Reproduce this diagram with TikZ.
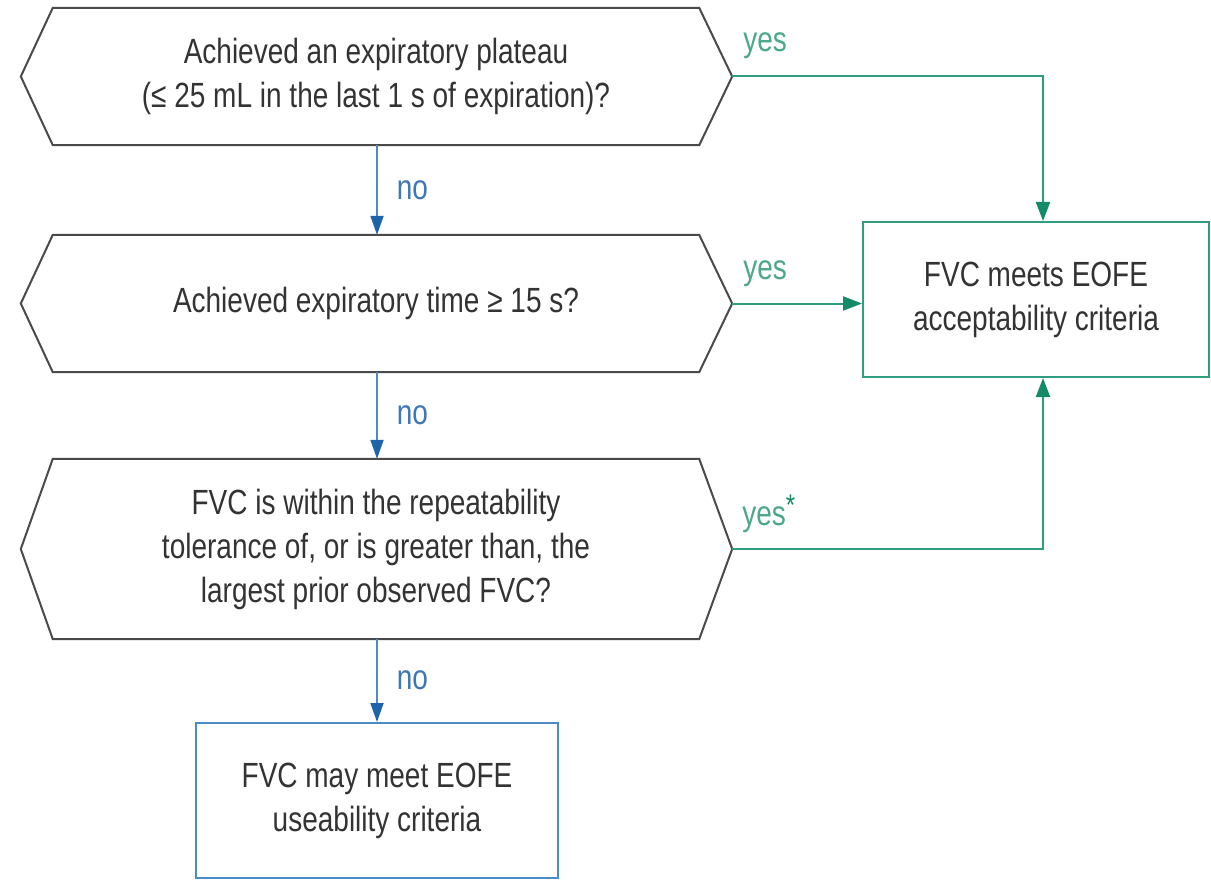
\documentclass[tikz,border=0pt]{standalone}
\usepackage{fontspec}
\setmainfont[FakeStretch=0.8]{Liberation Sans}
\usetikzlibrary{arrows.meta}
\definecolor{gline}{HTML}{2E9E7E}
\definecolor{gdark}{HTML}{148A66}
\definecolor{glabel}{HTML}{4CA888}
\definecolor{bline}{HTML}{4A8CC8}
\definecolor{bdark}{HTML}{1E64A8}
\definecolor{blabel}{HTML}{3F78B4}
\definecolor{hexcol}{HTML}{4A4A4A}
\definecolor{txt}{HTML}{333333}
\newcommand\drawhex[1]{\draw[hexline] (#1.north west) -- (#1.north east) -- ([xshift=33pt]#1.east) -- (#1.south east) -- (#1.south west) -- ([xshift=-32pt]#1.west) -- cycle;}
\begin{document}
\begin{tikzpicture}[x=1pt,y=-1pt,
  txtfont/.style={font=\fontsize{35}{44}\selectfont, text=txt},
  hexbody/.style={txtfont, minimum width=646pt, minimum height=#1, inner sep=0pt, align=center},
  hexline/.style={draw=hexcol, line width=2pt, line join=miter},
  gbox/.style={txtfont, draw=gline, line width=2pt, minimum width=346pt, minimum height=155pt, inner sep=0pt, align=center},
  bbox/.style={txtfont, draw=bline, line width=2pt, minimum width=362pt, minimum height=155pt, inner sep=0pt, align=center},
  garrow/.style={draw=gline, line width=2pt, -{Triangle[length=19pt,width=14pt,color=gdark]}},
  barrow/.style={draw=bline, line width=1.8pt, -{Triangle[length=19pt,width=13pt,color=bdark]}},
  ylab/.style={font=\fontsize{35}{42}\selectfont, text=glabel, inner sep=0pt, anchor=base west},
  nlab/.style={font=\fontsize{35}{42}\selectfont, text=blabel, inner sep=0pt, anchor=west, xshift=19pt}
]
\useasboundingbox (0,0) rectangle (1211,880);
\fill[white] (0,0) rectangle (1211,880);

\node[hexbody=137pt] (h1) at (376,76.5) {Achieved an expiratory plateau\\(≤ 25 mL in the last 1 s of expiration)?};
\node[hexbody=137pt] (h2) at (376,303.5) {Achieved expiratory time ≥ 15 s?};
\node[hexbody=180pt] (h3) at (376,549) {FVC is within the repeatability\\tolerance of, or is greater than, the\\largest prior observed FVC?};
\drawhex{h1}
\drawhex{h2}
\drawhex{h3}

\node[gbox] (acc) at (1036,299.5) {FVC meets EOFE\\acceptability criteria};
\node[bbox] (use) at (377,800.5) {FVC may meet EOFE\\useability criteria};

\coordinate (h1r) at ([xshift=33pt]h1.east);
\coordinate (h2r) at ([xshift=33pt]h2.east);
\coordinate (h3r) at ([xshift=33pt]h3.east);

\draw[garrow] (h1r) -| ([xshift=7pt]acc.north);
\draw[garrow] (h2r) -- (h2r -| acc.west);
\draw[garrow] (h3r) -| ([xshift=7pt]acc.south);

\node[ylab] (y1) at ([xshift=11pt,yshift=25pt]h1r) {yes};
\node[ylab] (y2) at ([xshift=11pt,yshift=24pt]h2r) {yes};
\node[ylab] (y3) at ([xshift=10pt,yshift=24pt]h3r) {yes\raisebox{10pt}{\fontsize{30}{30}\selectfont\color{gdark}*}};

\draw[barrow] ([xshift=1pt]h1.south) -- node[nlab] (n1) {no} ([xshift=1pt]h2.north);
\draw[barrow] ([xshift=1pt]h2.south) -- node[nlab] (n2) {no} ([xshift=1pt]h3.north);
\draw[barrow] ([xshift=1pt]h3.south) -- node[nlab] (n3) {no} (use.north);
\end{tikzpicture}
\end{document}
